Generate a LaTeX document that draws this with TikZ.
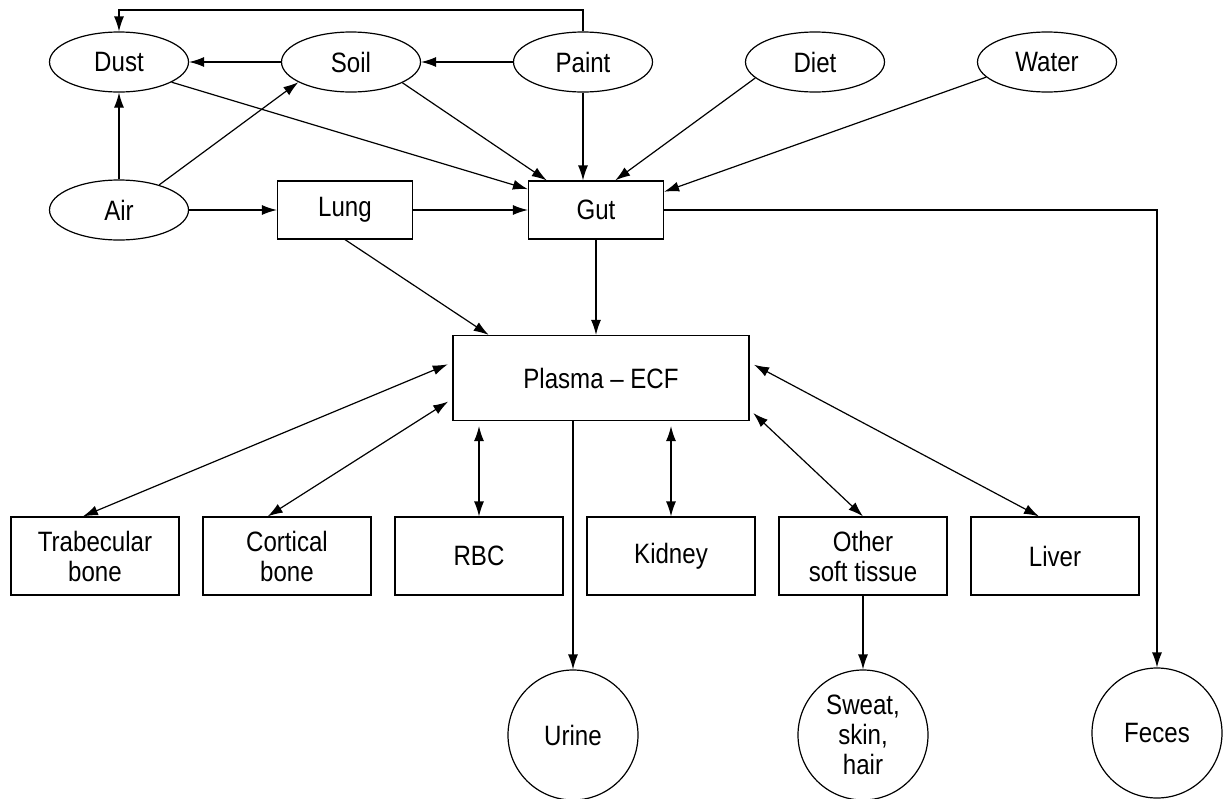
\documentclass[tikz,border=0pt]{standalone}
\usepackage{fontspec}
\setmainfont{Liberation Sans}[FakeStretch=0.86]
\usetikzlibrary{positioning,shapes.geometric,arrows.meta}

\begin{document}
\begin{tikzpicture}[oval/.style = {draw, ellipse, minimum width=139pt, minimum height=60pt},
port/.style = {draw, rectangle, minimum width=135pt, minimum height=58pt},
tissue/.style = {draw, rectangle, minimum width=168pt, minimum height=78pt, align=center},
outlet/.style = {draw, circle, minimum size=130pt, align=center},
every node/.style = {font=\fontsize{28pt}{30pt}\selectfont},
line width=1.2pt, >={Latex[length=15pt,width=10pt]}, node distance={232pt}]
\useasboundingbox (0,0) rectangle (1229pt,-798pt);
\node[oval] (1) at (119pt,-62pt) {Dust};
\node[oval] (2) [right of=1] {Soil};
\node[oval] (3) [right of=2] {Paint};
\node[oval] (4) [right of=3] {Diet};
\node[oval] (5) [right of=4] {Water};
\node[oval] (6) [below of=1, node distance=148pt] {Air};
\node[port] (7) [right of=6, node distance=226pt] {Lung};
\node[port] (8) [right of=7, node distance=251pt] {Gut};
\node[draw, minimum width=296pt, minimum height=85pt] (9) at (601pt,-378pt) {Plasma -- ECF};
\node[tissue] (10) at (95pt,-556pt) {Trabecular\\bone};
\node[tissue] (11) [right of=10, node distance=192pt] {Cortical\\bone};
\node[tissue] (12) [right of=11, node distance=192pt] {RBC};
\node[tissue] (13) [right of=12, node distance=192pt] {Kidney};
\node[tissue] (14) [right of=13, node distance=192pt] {Other\\soft tissue};
\node[tissue] (15) [right of=14, node distance=192pt] {Liver};
\node[outlet] (16) at (573pt,-735pt) {Urine};
\node[outlet] (17) [below of=14, node distance=179pt] {Sweat,\\skin,\\hair};
\node[outlet] (18) at (1157pt,-733pt) {Feces};
\coordinate (top) at (0,-10pt);
% sources
\draw[->] (3.north) -- (3.north |- top) -| (1.north);
\draw[->] (3) -- (2);
\draw[->] (2) -- (1);
\draw[->] (6) -- (1);
\draw[->] (6.32) -- (2.201);
\draw[->] (6) -- (7);
\draw[->] (7) -- (8);
\draw[->] (1.339) -- (8.163);
\draw[->] (2.338) -- (8.149);
\draw[->] (3) -- (3 |- 8.north);
\draw[->] (4.195) -- (8.57);
\draw[->] (5.194) -- (8.15);
\draw[->] (8.east) -| (18);
% uptake
\draw[->] (7.south) -- (9.159);
\draw[->] (8) -- (8 |- 9.north);
% exchange
\draw[<->, shorten <=5pt] (9.174) -- (10.107);
\draw[<->, shorten <=5pt] (9.188) -- (11.116);
\draw[<->, shorten <=5pt] (12 |- 9.south) -- (12);
\draw[<->, shorten <=5pt] (13 |- 9.south) -- (13);
\draw[<->, shorten <=5pt] (9.348) -- (14.north);
\draw[<->, shorten <=5pt] (9.6) -- (15.112);
% excretion
\draw[->] (9.south -| 16) -- (16);
\draw[->] (14) -- (17);
\end{tikzpicture}
\end{document}
